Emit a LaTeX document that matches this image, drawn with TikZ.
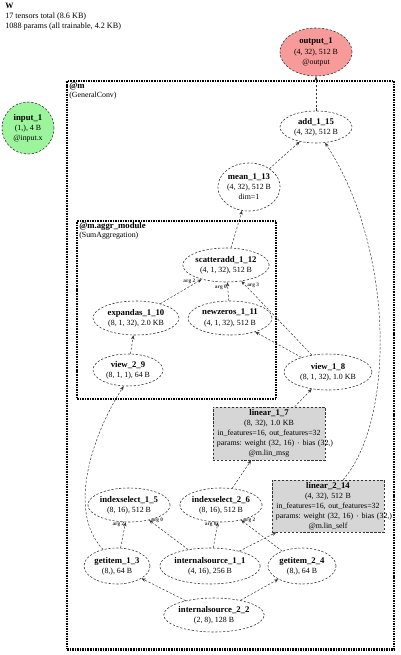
\documentclass[tikz,border=0pt]{standalone}
\usepackage{fontspec}
\setmainfont{Liberation Serif}
\usetikzlibrary{shapes.geometric,arrows.meta}
\frenchspacing
\definecolor{colOut}{HTML}{F79A9A}
\definecolor{colIn}{HTML}{9CF59C}
\definecolor{colLayer}{HTML}{D6D6D6}
\definecolor{colLine}{HTML}{333333}
% bold tensor name
\newcommand{\tname}[1]{{\fontsize{6.2}{7.2}\selectfont\bfseries #1}}
\tikzset{
  %% tensor ellipse
  tensor/.style={
    ellipse, draw=colLine, line width=0.4pt,
    dash pattern=on 1.6pt off 1.2pt,
    fill=#1, inner sep=0pt, align=center,
    font=\fontsize{5.6}{7.2}\selectfont
  },
  tensor/.default=white,
  %% module layer box
  layer/.style={
    rectangle, draw=colLine, line width=0.4pt,
    dash pattern=on 1.6pt off 1.2pt,
    fill=colLayer, inner xsep=1mm, inner ysep=0pt, align=center,
    text width=26mm,
    font=\fontsize{5.6}{7.2}\selectfont
  },
  %% module frame
  modframe/.style={
    draw=black, line width=1.7pt, dash pattern=on 1.1pt off 0.7pt,
    inner sep=0pt
  },
  %% frame title
  modlabel/.style={anchor=north west, align=left, inner sep=0pt,
    font=\fontsize{5.6}{6.4}\selectfont},
  %% arg label
  argl/.style={font=\bfseries\fontsize{3.8}{4}\selectfont, inner sep=0.5pt},
  %% arrows
  arr/.style={-{Stealth[length=3pt,width=2.4pt]}, line width=0.35pt,
    color=colLine, dash pattern=on 1.6pt off 1.2pt}
}

\begin{document}
\begin{tikzpicture}[x=0.025cm, y=-0.025cm]
\useasboundingbox (0,0) rectangle (400,655);

% header
\node[modlabel, font=\fontsize{5.8}{7}\selectfont] (hdr) at (5,3)
  {\textbf{W}\\17 tensors total (8.6 KB)\\1088 params (all trainable, 4.2 KB)};

% frames
\node[modframe, anchor=north west, minimum width=81.75mm,
      minimum height=142mm] (m) at (66,80) {};
\node[modlabel] (mlab) at (69,82) {\tname{@m}\\(GeneralConv)};
\node[modframe, anchor=north west, minimum width=49.75mm,
      minimum height=44.5mm] (aggr) at (76,220) {};
\node[modlabel] (aggrlab) at (79,222)
  {\tname{@m.aggr\_module}\\(SumAggregation)};

% input / output
\node[tensor=colIn, minimum width=13mm, minimum height=13mm] (in1) at (28,128)
  {\tname{input\_1}\\(1,), 4 B\\@input.x};
\node[tensor=colOut, minimum width=18mm, minimum height=12mm] (out1) at (316,52)
  {\tname{output\_1}\\(4, 32), 512 B\\@output};

% top part
\node[tensor, minimum width=18mm, minimum height=8mm] (add115) at (316,127)
  {\tname{add\_1\_15}\\(4, 32), 512 B};
\node[tensor, minimum width=15.5mm, minimum height=12mm] (mean113) at (249,187)
  {\tname{mean\_1\_13}\\(4, 32), 512 B\\dim=1};

% aggregation module
\node[tensor, minimum width=21.5mm, minimum height=8.5mm] (sa112) at (226,265)
  {\tname{scatteradd\_1\_12}\\(4, 1, 32), 512 B};
\node[tensor, minimum width=21.5mm, minimum height=8.5mm] (ea110) at (136,318)
  {\tname{expandas\_1\_10}\\(8, 1, 32), 2.0 KB};
\node[tensor, minimum width=21mm, minimum height=8.5mm] (nz111) at (230,318)
  {\tname{newzeros\_1\_11}\\(4, 1, 32), 512 B};
\node[tensor, minimum width=17.5mm, minimum height=8mm] (v29) at (128,370)
  {\tname{view\_2\_9}\\(8, 1, 1), 64 B};

% message path
\node[tensor, minimum width=22mm, minimum height=9mm] (v18) at (328,372)
  {\tname{view\_1\_8}\\(8, 1, 32), 1.0 KB};
\node[layer, minimum height=13.25mm] (lin17) at (269,433.5)
  {\tname{linear\_1\_7}\\(8, 32), 1.0 KB\\
   \mbox{in\_features=16, out\_features=32}\\
   \mbox{params: weight (32, 16) $\cdot$ bias (32,)}\\@m.lin\_msg};
\node[layer, minimum height=13mm] (lin214) at (328,506)
  {\tname{linear\_2\_14}\\(4, 32), 512 B\\
   \mbox{in\_features=16, out\_features=32}\\
   \mbox{params: weight (32, 16) $\cdot$ bias (32,)}\\@m.lin\_self};

% bottom part
\node[tensor, minimum width=20mm, minimum height=8.5mm] (ix15) at (129,505)
  {\tname{indexselect\_1\_5}\\(8, 16), 512 B};
\node[tensor, minimum width=20.5mm, minimum height=8.5mm] (ix26) at (221,505)
  {\tname{indexselect\_2\_6}\\(8, 16), 512 B};
\node[tensor, minimum width=16.5mm, minimum height=9mm] (gi13) at (117,566)
  {\tname{getitem\_1\_3}\\(8,), 64 B};
\node[tensor, minimum width=24mm, minimum height=9mm] (is11) at (210,566)
  {\tname{internalsource\_1\_1}\\(4, 16), 256 B};
\node[tensor, minimum width=17mm, minimum height=9mm] (gi24) at (302,566)
  {\tname{getitem\_2\_4}\\(8,), 64 B};
\node[tensor, minimum width=24mm, minimum height=8.5mm] (is22) at (214,615)
  {\tname{internalsource\_2\_2}\\(2, 8), 128 B};

% edges
\draw[arr] (is22) -- (gi13);
\draw[arr] (is22) -- (gi24);
\draw[arr] (gi13) -- node[argl, pos=0.92, left]{arg 2} (ix15);
\draw[arr] (is11) -- node[argl, pos=0.93, above right=-1pt]{arg 0} (ix15);
\draw[arr] (is11) -- node[argl, pos=0.92, left]{arg 0} (ix26);
\draw[arr] (gi24) -- node[argl, pos=0.93, above right=-1pt]{arg 2} (ix26);
\draw[arr] (is11) -- (lin214);
\draw[arr] (ix26) -- (lin17);
\draw[arr] (lin17) -- (v18);
\draw[arr] (v18) -- (nz111);
\draw[arr] (v18) -- node[argl, pos=0.95, right=1pt]{arg 3} (sa112);
\draw[arr] (gi13.130) .. controls (65,510) and (95,430) .. (v29.-105);
\draw[arr] (v29) -- (ea110);
\draw[arr] (ea110) -- node[argl, pos=0.9, left=1pt]{arg 2} (sa112);
\draw[arr] (nz111) -- node[argl, pos=0.75, left]{arg 0} (sa112);
\draw[arr] (sa112) -- (mean113);
\draw[arr] (mean113) -- (add115);
\draw[arr] (lin214.60) .. controls (395,420) and (395,250) .. (add115.-60);
\draw[arr] (add115) -- (out1);

\end{tikzpicture}
\end{document}
